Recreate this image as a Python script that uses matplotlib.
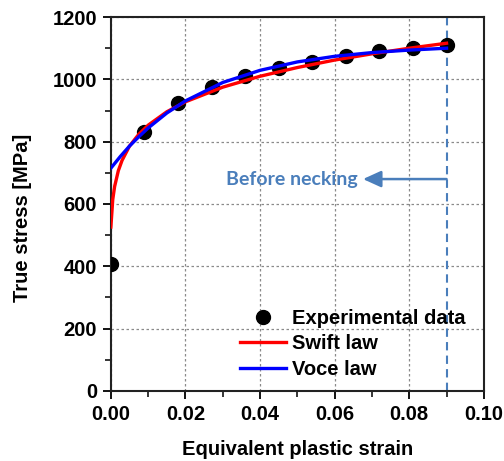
import matplotlib
matplotlib.use('Agg')
import matplotlib.pyplot as plt
from matplotlib.ticker import MultipleLocator

# experimental points
exp_strain = [0.0, 0.009, 0.018, 0.027, 0.036, 0.045, 0.054, 0.063, 0.072, 0.081, 0.090]
exp_stress = [407, 830, 924, 976, 1011, 1038, 1057, 1074, 1090, 1101, 1111]

# swift law curve
swift_strain = [0.0, 0.0005, 0.001, 0.002, 0.003, 0.005, 0.0075, 0.01, 0.015, 0.02,
                0.03, 0.04, 0.05, 0.06, 0.07, 0.08, 0.09]
swift_stress = [526, 614, 656, 707, 740, 786, 824, 853, 896, 928,
                975, 1010, 1038, 1062, 1082, 1100, 1116]

# voce law curve
voce_strain = [0.0, 0.0025, 0.005, 0.0075, 0.01, 0.015, 0.02, 0.03, 0.04, 0.05,
               0.06, 0.07, 0.08, 0.09]
voce_stress = [715, 752, 786, 816, 844, 892, 931, 990, 1029, 1056,
               1074, 1086, 1094, 1100]

necking_strain = 0.09
arrow_stress = 680

plt.rcParams['font.family'] = ['Liberation Sans', 'DejaVu Sans']
plt.rcParams['font.weight'] = 'bold'

fig = plt.figure(figsize=(5.04, 4.61), dpi=100)
ax = fig.add_axes([0.220, 0.152, 0.740, 0.811])

ax.grid(True, which='major', color='#8a8a8a', linestyle=(0, (2, 2)), linewidth=0.9)
ax.set_axisbelow(True)

ax.axvline(necking_strain, color='#4a7ebb', linestyle=(0, (4, 2.5)), linewidth=1.5, zorder=2)

ax.plot(exp_strain, exp_stress, 'o', color='black', markersize=10, label='Experimental data', zorder=3)
ax.plot(swift_strain, swift_stress, '-', color='#ff0000', linewidth=2.4, label='Swift law', zorder=4)
ax.plot(voce_strain, voce_stress, '-', color='#0000ff', linewidth=2.4, label='Voce law', zorder=5)

ax.annotate('', xy=(0.0676, arrow_stress), xytext=(necking_strain, arrow_stress),
            arrowprops=dict(arrowstyle='-|>,head_length=1.1,head_width=0.5',
                            color='#4a7ebb', lw=1.8, shrinkA=0, shrinkB=0))
ax.text(0.0662, arrow_stress, 'Before necking', color='#4a7ebb', fontsize=14,
        fontweight='bold', family=['Lato', 'DejaVu Sans'], ha='right', va='center')

ax.set_xlim(0, 0.10)
ax.set_ylim(0, 1200)
ax.xaxis.set_major_locator(MultipleLocator(0.02))
ax.xaxis.set_minor_locator(MultipleLocator(0.01))
ax.yaxis.set_major_locator(MultipleLocator(200))
ax.yaxis.set_minor_locator(MultipleLocator(100))
ax.xaxis.set_major_formatter(matplotlib.ticker.FormatStrFormatter('%.2f'))

ax.tick_params(which='major', direction='out', length=6, width=1.3, labelsize=14.5, pad=4)
ax.tick_params(which='minor', direction='out', length=4, width=1.1)
for s in ax.spines.values():
    s.set_linewidth(1.5)
    s.set_color('#222222')

ax.set_xlabel('Equivalent plastic strain', fontsize=14.5, fontweight='bold', labelpad=12)
ax.set_ylabel('True stress [MPa]', fontsize=14.5, fontweight='bold')
ax.yaxis.set_label_coords(-0.212, 0.464)

leg = ax.legend(loc='upper left', bbox_to_anchor=(0.346, 0.219), frameon=False,
                fontsize=14.5, handlelength=2.3, handletextpad=0.3, labelspacing=0.32,
                borderpad=0, borderaxespad=0)

plt.savefig('out.png', dpi=100)
